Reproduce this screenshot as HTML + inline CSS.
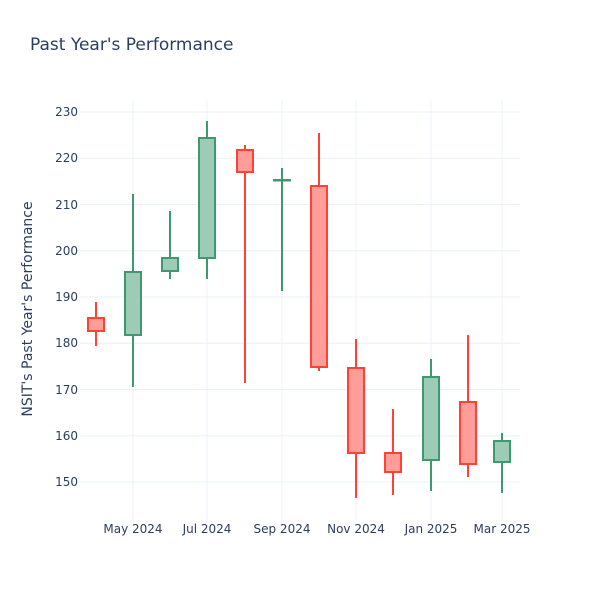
<!DOCTYPE html>
<html><head><meta charset="utf-8"><style>body{margin:0;background:#fff}svg{display:block}text{font-family:"DejaVu Sans","Liberation Sans",sans-serif;fill:#2a3f5f}</style></head><body>
<svg width="600" height="600" xmlns="http://www.w3.org/2000/svg">
<rect width="600" height="600" fill="#fff"/>
<text x="30" y="50" font-size="17">Past Year's Performance</text>
<g stroke="#ebf0f8" stroke-width="1">
<line x1="80" x2="520" y1="112" y2="112"/><line x1="80" x2="520" y1="158.25" y2="158.25"/><line x1="80" x2="520" y1="204.5" y2="204.5"/><line x1="80" x2="520" y1="250.75" y2="250.75"/><line x1="80" x2="520" y1="297" y2="297"/><line x1="80" x2="520" y1="343.25" y2="343.25"/><line x1="80" x2="520" y1="389.5" y2="389.5"/><line x1="80" x2="520" y1="435.75" y2="435.75"/><line x1="80" x2="520" y1="482" y2="482"/>
<line x1="133" x2="133" y1="100" y2="520"/><line x1="207" x2="207" y1="100" y2="520"/><line x1="282" x2="282" y1="100" y2="520"/><line x1="356" x2="356" y1="100" y2="520"/><line x1="431" x2="431" y1="100" y2="520"/><line x1="502" x2="502" y1="100" y2="520"/>
</g>
<g font-size="12" text-anchor="end">
<text x="78" y="116">230</text><text x="78" y="162">220</text><text x="78" y="209">210</text><text x="78" y="255">200</text><text x="78" y="301">190</text><text x="78" y="347">180</text><text x="78" y="394">170</text><text x="78" y="440">160</text><text x="78" y="486">150</text>
</g>
<g font-size="12" text-anchor="middle">
<text x="133" y="533">May 2024</text><text x="207" y="533">Jul 2024</text><text x="282" y="533">Sep 2024</text><text x="356" y="533">Nov 2024</text><text x="431" y="533">Jan 2025</text><text x="502" y="533">Mar 2025</text>
</g>
<text transform="translate(32,309) rotate(-90)" font-size="14" text-anchor="middle">NSIT's Past Year's Performance</text>
<g stroke-width="2">
<g stroke="#ff4136" fill="#ff9e98">
<line x1="96" x2="96" y1="302" y2="346"/><rect x="88" y="318" width="16" height="13"/>
<line x1="245" x2="245" y1="145" y2="383"/><rect x="237" y="150" width="16" height="22"/>
<line x1="319" x2="319" y1="133" y2="371"/><rect x="311" y="186" width="16" height="181"/>
<line x1="356" x2="356" y1="339" y2="498"/><rect x="348" y="368" width="16" height="85"/>
<line x1="393" x2="393" y1="409" y2="495"/><rect x="385" y="453" width="16" height="19"/>
<line x1="468" x2="468" y1="335" y2="477"/><rect x="460" y="402" width="16" height="62"/>
</g>
<g stroke="#3d9970" fill="#9ecbb6">
<line x1="133" x2="133" y1="194" y2="387"/><rect x="125" y="272" width="16" height="63"/>
<line x1="170" x2="170" y1="211" y2="279"/><rect x="162" y="258" width="16" height="13"/>
<line x1="207" x2="207" y1="121" y2="279"/><rect x="199" y="138" width="16" height="120"/>
<line x1="282" x2="282" y1="168" y2="291"/><rect x="274" y="180" width="16" height="0.5"/>
<line x1="431" x2="431" y1="359" y2="491"/><rect x="423" y="377" width="16" height="83"/>
<line x1="502" x2="502" y1="433" y2="493"/><rect x="494" y="441" width="16" height="21"/>
</g>
</g>
</svg>
</body></html>
